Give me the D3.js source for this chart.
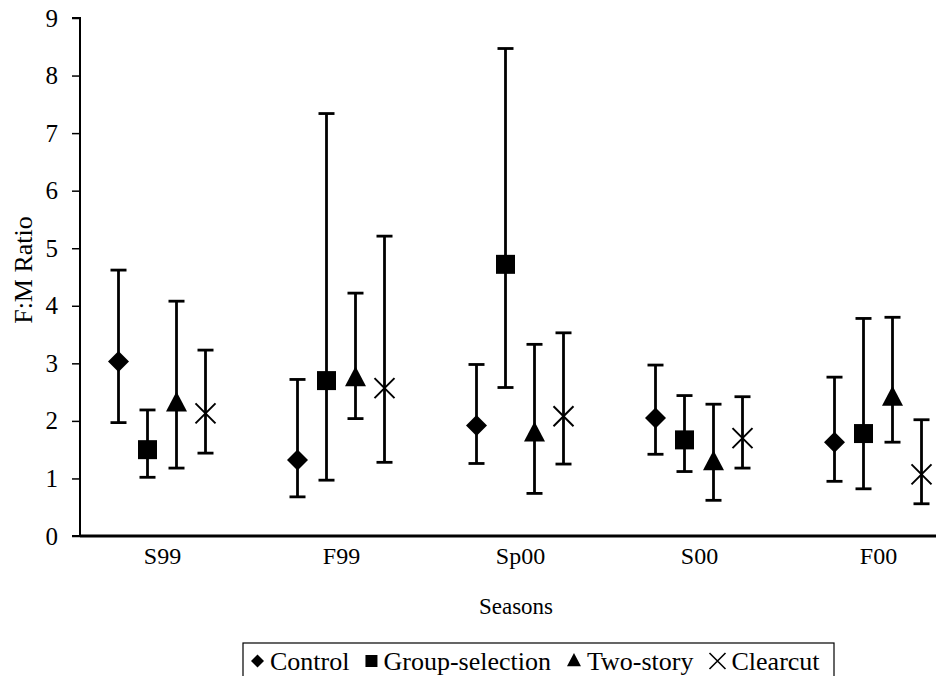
<!DOCTYPE html>
<html>
<head>
<meta charset="utf-8">
<script src="https://cdn.jsdelivr.net/npm/d3@7"></script>
<style>
  html, body { margin: 0; padding: 0; background: #fff; }
  svg { display: block; }
</style>
</head>
<body>
<svg id="chart" width="936" height="676"></svg>
<script>
// Seasons sampled and silvicultural treatments
const seasons = ["S99", "F99", "Sp00", "S00", "F00"];
const treatments = ["Control", "Group-selection", "Two-story", "Clearcut"];
const yTicks = [0, 1, 2, 3, 4, 5, 6, 7, 8, 9];

// Female:male ratio per season (mean, lower and upper limit)
const controlMean = [3.03, 1.32, 1.92, 2.05, 1.63];
const controlLow  = [1.97, 0.68, 1.26, 1.42, 0.95];
const controlHigh = [4.62, 2.72, 2.98, 2.97, 2.76];

const groupMean = [1.50, 2.70, 4.72, 1.67, 1.78];
const groupLow  = [1.02, 0.97, 2.58, 1.12, 0.82];
const groupHigh = [2.19, 7.34, 8.47, 2.44, 3.78];

const twoStoryMean = [2.30, 2.74, 1.78, 1.28, 2.40];
const twoStoryLow  = [1.18, 2.04, 0.74, 0.62, 1.63];
const twoStoryHigh = [4.08, 4.22, 3.33, 2.29, 3.80];

const clearcutMean = [2.13, 2.57, 2.08, 1.70, 1.07];
const clearcutLow  = [1.44, 1.28, 1.25, 1.18, 0.56];
const clearcutHigh = [3.23, 5.21, 3.53, 2.42, 2.02];

const series = [
  { name: "Control",         mean: controlMean,  low: controlLow,  high: controlHigh,  shape: "diamond" },
  { name: "Group-selection", mean: groupMean,    low: groupLow,    high: groupHigh,    shape: "square" },
  { name: "Two-story",       mean: twoStoryMean, low: twoStoryLow, high: twoStoryHigh, shape: "triangle" },
  { name: "Clearcut",        mean: clearcutMean, low: clearcutLow, high: clearcutHigh, shape: "cross" }
];

const FONT = '"Liberation Serif"';
const svg = d3.select("#chart");
const axisLeftX = 80, axisBottomY = 536, axisTopY = 18;

const x = d3.scalePoint().domain(seasons).range([162, 878]);
const xOffset = d3.scaleBand().domain(treatments).range([-58, 58]);
const y = d3.scaleLinear().domain([0, 9]).range([axisBottomY, axisTopY]);

// Marker path generators
const shapes = {
  diamond: (s) => `M0,${-s}L${s},0L0,${s}L${-s},0Z`,
  square: (s) => `M${-s},${-s}H${s}V${s}H${-s}Z`,
  triangle: (s) => `M0,${-s * 1.15}L${s},${s * 0.75}L${-s},${s * 0.75}Z`,
  cross: (s) => `M${-s},${-s}L${s},${s}M${s},${-s}L${-s},${s}`
};
const markerSize = { diamond: 10.5, square: 9.5, triangle: 10.5, cross: 10 };

function drawMarker(g, shape, size, strokeW) {
  const p = g.append("path").attr("d", shapes[shape](size));
  if (shape === "cross") {
    p.attr("fill", "none").attr("stroke", "#000").attr("stroke-width", strokeW);
  } else {
    p.attr("fill", "#000");
  }
  return p;
}

// Y axis
const yAxis = d3.axisLeft(y).tickValues(yTicks).tickSize(8).tickPadding(14).tickFormat(d3.format("d"));
const gy = svg.append("g").attr("transform", `translate(${axisLeftX},0)`).call(yAxis);
gy.select(".domain").attr("stroke", "#000").attr("stroke-width", 2).attr("d", `M-8,${axisTopY}H0V${axisBottomY}H-8`);
gy.selectAll(".tick line").attr("stroke", "#000").attr("stroke-width", 1.5);
gy.selectAll(".tick text").attr("fill", "#000").style("font-family", FONT).style("font-size", "25px");

// X axis
const xAxis = d3.axisBottom(x).tickSize(0).tickPadding(11);
const gx = svg.append("g").attr("transform", `translate(0,${axisBottomY})`).call(xAxis);
gx.select(".domain").attr("stroke", "#000").attr("stroke-width", 2.8).attr("d", `M${axisLeftX},0H936`);
gx.selectAll(".tick text").attr("fill", "#000").style("font-family", FONT).style("font-size", "24px");

// Axis titles
svg.append("text")
  .attr("transform", `translate(32,270) rotate(-90)`)
  .attr("text-anchor", "middle")
  .style("font-family", FONT).style("font-size", "26px")
  .text("F:M Ratio");

svg.append("text")
  .attr("x", 516).attr("y", 614)
  .attr("text-anchor", "middle")
  .style("font-family", FONT).style("font-size", "23px")
  .text("Seasons");

// Error bars and markers
const plot = svg.append("g");
series.forEach(sr => {
  const g = plot.append("g").attr("class", "series");
  seasons.forEach((season, i) => {
    const cx = x(season) + xOffset(sr.name) + xOffset.bandwidth() / 2;
    const eb = g.append("g").attr("stroke", "#000").attr("stroke-width", 2.8);
    eb.append("line").attr("x1", cx).attr("x2", cx).attr("y1", y(sr.low[i])).attr("y2", y(sr.high[i]));
    eb.append("line").attr("x1", cx - 8).attr("x2", cx + 8).attr("y1", y(sr.low[i])).attr("y2", y(sr.low[i]));
    eb.append("line").attr("x1", cx - 8).attr("x2", cx + 8).attr("y1", y(sr.high[i])).attr("y2", y(sr.high[i]));
    const m = g.append("g").attr("transform", `translate(${cx},${y(sr.mean[i])})`);
    drawMarker(m, sr.shape, markerSize[sr.shape], 2);
  });
});

// Legend
const legendSize = { diamond: 6.5, square: 6, triangle: 7, cross: 8 };
const legend = svg.append("g").attr("transform", "translate(243,643)");
legend.append("rect")
  .attr("x", 0).attr("y", 0).attr("width", 591).attr("height", 60)
  .attr("fill", "#fff").attr("stroke", "#000").attr("stroke-width", 1.2);
let lx = 8;
series.forEach(sr => {
  const s = legendSize[sr.shape];
  const item = legend.append("g").attr("transform", `translate(${lx + s},18)`);
  drawMarker(item, sr.shape, s, 1.6);
  const t = item.append("text")
    .attr("x", s + 6).attr("y", 9)
    .style("font-family", FONT).style("font-size", "26px")
    .text(sr.name);
  const w = t.node().getComputedTextLength();
  lx += 2 * s + 6 + w + 16;
});
</script>
</body>
</html>
